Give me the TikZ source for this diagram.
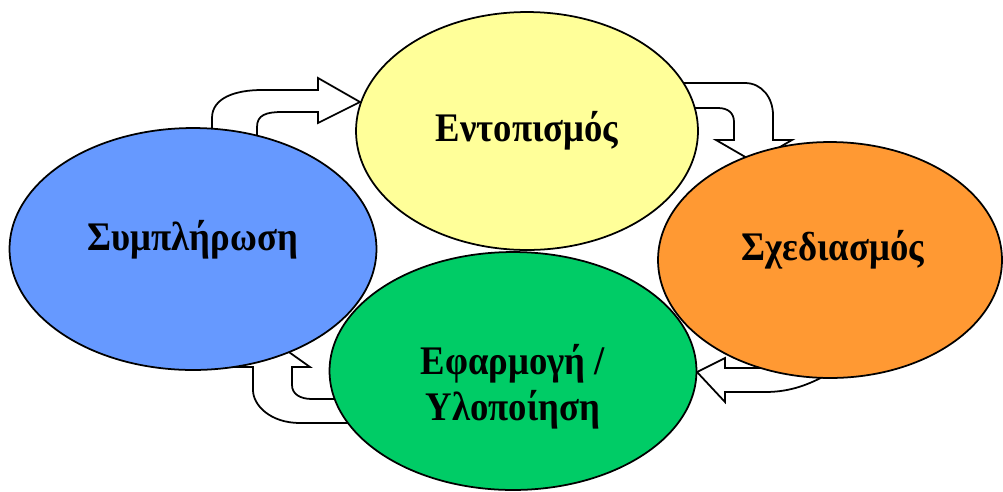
\documentclass[tikz,border=0pt]{standalone}
\usepackage{fontspec}
\setmainfont{Liberation Serif}
\usetikzlibrary{shapes.geometric}
\definecolor{phyellow}{HTML}{FFFF99}
\definecolor{phblue}{HTML}{6699FF}
\definecolor{phorange}{HTML}{FF9933}
\definecolor{phgreen}{HTML}{00CC66}

\begin{document}
\begin{tikzpicture}[x=0.02cm,y=-0.02cm,
		phase/.style={ellipse,draw=black,line width=1pt,inner sep=0pt},
		phasetext/.style={align=center,inner sep=0pt,font=\fontsize{22}{26}\selectfont\bfseries},
		bentarrow/.style={draw=black,fill=white,line width=1pt,line join=miter}]
				\useasboundingbox (0,0) rectangle (1003,491);
				% block arrows, behind the phases
				\path [bentarrow] (212,145) -- (212,118) .. controls (212,98) and (235,90) .. (262,90) -- (318,90) -- (318,78) -- (360,102) -- (318,123) -- (318,112) -- (282,112) .. controls (266,112) and (257,115) .. (257,127) -- (257,145) -- cycle;
				\path [bentarrow] (670,83) -- (745,83) .. controls (762,83) and (773,98) .. (773,115) -- (773,140) -- (792,140) -- (754,162) -- (716,140) -- (734,140) -- (734,122) .. controls (734,113) and (728,108) .. (718,108) -- (670,108) -- cycle;
				\path [bentarrow] (697,372) -- (725,358) -- (725,368) -- (800,368) -- (840,360) -- (835,370) .. controls (810,385) and (790,392) .. (765,392) -- (725,392) -- (725,402) -- cycle;
				\path [bentarrow] (272,340) -- (310,367) -- (292,367) -- (292,385) .. controls (292,394) and (300,399) .. (312,399) -- (370,399) -- (370,423) -- (300,423) .. controls (270,423) and (253,405) .. (253,390) -- (253,367) -- (236,367) -- cycle;
				% phases
				\node [phase,fill=phyellow,minimum width=6.84cm,minimum height=4.76cm] (ident) at (527,131) {};
				\node [phase,fill=phorange,minimum width=6.88cm,minimum height=4.72cm] (plan) at (830,260) {};
				\node [phase,fill=phgreen,minimum width=7.34cm,minimum height=4.76cm] (impl) at (513,371) {};
				\node [phase,fill=phblue,minimum width=7.34cm,minimum height=4.84cm] (compl) at (193,249) {};
				\node [phasetext] (ident-t) at (527,131) {\scalebox{0.95}[1.05]{Εντοπισμός}};
				\node [phasetext] (plan-t) at (833,250) {\scalebox{0.95}[1.05]{Σχεδιασμός}};
				\node [phasetext] (impl-t) at (513,388) {\scalebox{0.95}[1.05]{\begin{tabular}{@{}c@{}}Εφαρμογή /\\[-1pt]Υλοποίηση\end{tabular}}};
				\node [phasetext] (compl-t) at (193,240) {\scalebox{0.95}[1.05]{Συμπλήρωση}};
\end{tikzpicture}
\end{document}
